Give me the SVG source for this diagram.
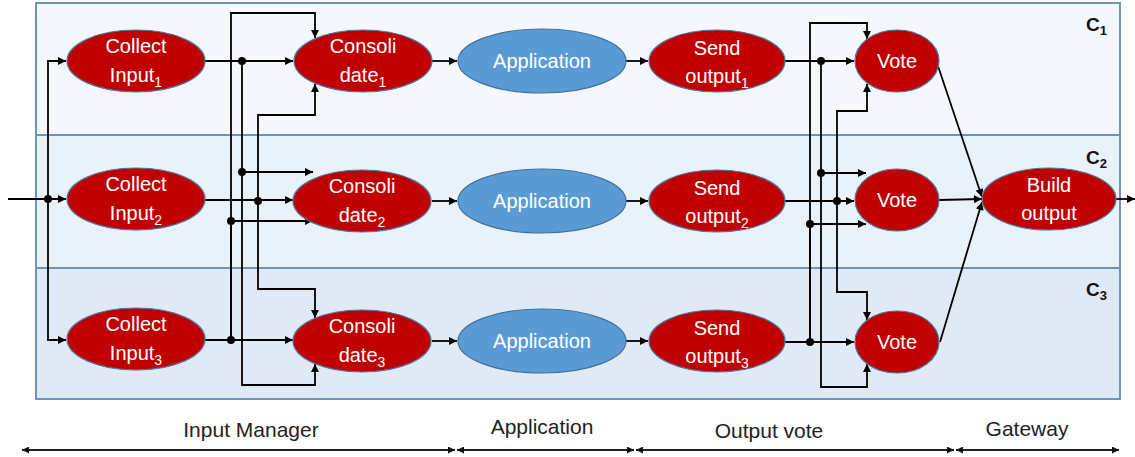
<svg xmlns="http://www.w3.org/2000/svg" width="1135" height="457" viewBox="0 0 1135 457">
<defs>
<marker id="arr" viewBox="0 0 10 10" refX="10" refY="5" markerUnits="userSpaceOnUse" markerWidth="9" markerHeight="8" orient="auto">
<path d="M0 0 L10 5 L0 10 z" fill="#000"/>
</marker>
<marker id="arrS" viewBox="0 0 10 10" refX="10" refY="5" markerUnits="userSpaceOnUse" markerWidth="7" markerHeight="7" orient="auto-start-reverse">
<path d="M0 0 L10 5 L0 10 z" fill="#111"/>
</marker>
<style>
.band{stroke:#6F93BD;stroke-width:2}
.red{fill:#C00000;stroke:#4A78A8;stroke-width:1.2}
.blue{fill:#5B9BD5;stroke:#41719C;stroke-width:1.2}
.t{font-family:"Liberation Sans",Arial,sans-serif;font-size:20px;fill:#fff;text-anchor:middle}
.sub{font-size:14px}
.c{font-family:"Liberation Sans",Arial,sans-serif;font-size:19px;font-weight:bold;fill:#111}
.cs{font-size:13px}
.ax{font-family:"Liberation Sans",Arial,sans-serif;font-size:21px;fill:#222;text-anchor:middle}
.ln{fill:none;stroke:#000;stroke-width:1.8}
.a{marker-end:url(#arr)}
.axl{stroke:#222;stroke-width:2;marker-start:url(#arrS);marker-end:url(#arrS)}
</style>
</defs>
<g id="bands">
<rect class="band" x="36" y="3" width="1084" height="132" fill="#F4F8FD"/>
<rect class="band" x="36" y="135" width="1084" height="133" fill="#E9F1F9"/>
<rect class="band" x="36" y="268" width="1084" height="131" fill="#DFEAF6"/>
<text class="c" x="1086" y="31">C<tspan class="cs" dy="4">1</tspan></text>
<text class="c" x="1086" y="164">C<tspan class="cs" dy="4">2</tspan></text>
<text class="c" x="1086" y="296">C<tspan class="cs" dy="4">3</tspan></text>
</g>
<g id="connectors">
<path class="ln a" d="M8 199 H66"/>
<path class="ln a" d="M48 199 V61 H66"/>
<path class="ln a" d="M48 199 V340 H66"/>
<path class="ln a" d="M205 61 H293"/>
<path class="ln a" d="M242 61 V172 H313"/>
<path class="ln a" d="M242 172 V385 H315 V364"/>
<path class="ln a" d="M205 200 H293"/>
<path class="ln a" d="M258 201 V115 H315 V84"/>
<path class="ln a" d="M258 201 V289 H315 V318"/>
<path class="ln a" d="M205 340 H293"/>
<path class="ln a" d="M231 340 V13 H315 V38"/>
<path class="ln a" d="M231 340 V221 H313"/>
<path class="ln a" d="M432 61 H457"/>
<path class="ln a" d="M432 201 H457"/>
<path class="ln a" d="M432 341 H457"/>
<path class="ln a" d="M626 61 H648"/>
<path class="ln a" d="M626 201 H648"/>
<path class="ln a" d="M626 341 H648"/>
<path class="ln a" d="M784 61 H854"/>
<path class="ln a" d="M821 61 V173 H866"/>
<path class="ln a" d="M821 173 V387 H867 V364"/>
<path class="ln a" d="M784 201 H854"/>
<path class="ln a" d="M837 201 V111 H867 V84"/>
<path class="ln a" d="M837 201 V292 H867 V320"/>
<path class="ln a" d="M784 342 H854"/>
<path class="ln a" d="M810 342 V23 H867 V39"/>
<path class="ln a" d="M810 342 V224 H866"/>
<path class="ln a" d="M938 66 L982 197"/>
<path class="ln a" d="M939 200 L982 199"/>
<path class="ln a" d="M940 342 L982 202"/>
<path class="ln a" d="M1116 199 H1135"/>
<g fill="#000">
<circle cx="48" cy="199" r="4"/>
<circle cx="242" cy="61" r="4"/>
<circle cx="242" cy="172" r="4"/>
<circle cx="258" cy="201" r="4"/>
<circle cx="231" cy="340" r="4"/>
<circle cx="231" cy="221" r="4"/>
<circle cx="821" cy="61" r="4"/>
<circle cx="821" cy="173" r="4"/>
<circle cx="837" cy="201" r="4"/>
<circle cx="810" cy="342" r="4"/>
<circle cx="810" cy="224" r="4"/>
</g>
</g>
<g id="collect1"><ellipse class="red" cx="136" cy="61" rx="69" ry="31"/><text class="t" x="136" y="53">Collect</text><text class="t" x="136" y="82">Input<tspan class="sub" dy="5">1</tspan></text></g>
<g id="collect2"><ellipse class="red" cx="136" cy="199" rx="69" ry="31"/><text class="t" x="136" y="191">Collect</text><text class="t" x="136" y="220">Input<tspan class="sub" dy="5">2</tspan></text></g>
<g id="collect3"><ellipse class="red" cx="136" cy="339" rx="69" ry="31"/><text class="t" x="136" y="331">Collect</text><text class="t" x="136" y="360">Input<tspan class="sub" dy="5">3</tspan></text></g>
<g id="consolidate1"><ellipse class="red" cx="363" cy="61" rx="69" ry="31"/><text class="t" x="363" y="53">Consoli</text><text class="t" x="363" y="82">date<tspan class="sub" dy="5">1</tspan></text></g>
<g id="consolidate2"><ellipse class="red" cx="362" cy="201" rx="69" ry="31"/><text class="t" x="362" y="193">Consoli</text><text class="t" x="362" y="222">date<tspan class="sub" dy="5">2</tspan></text></g>
<g id="consolidate3"><ellipse class="red" cx="362" cy="341" rx="69" ry="31"/><text class="t" x="362" y="333">Consoli</text><text class="t" x="362" y="362">date<tspan class="sub" dy="5">3</tspan></text></g>
<g id="application1"><ellipse class="blue" cx="542" cy="61" rx="84" ry="32"/><text class="t" x="542" y="68">Application</text></g>
<g id="application2"><ellipse class="blue" cx="542" cy="201" rx="84" ry="32"/><text class="t" x="542" y="208">Application</text></g>
<g id="application3"><ellipse class="blue" cx="542" cy="341" rx="84" ry="32"/><text class="t" x="542" y="348">Application</text></g>
<g id="send1"><ellipse class="red" cx="717" cy="61" rx="68" ry="31"/><text class="t" x="717" y="55">Send</text><text class="t" x="717" y="83">output<tspan class="sub" dy="5">1</tspan></text></g>
<g id="send2"><ellipse class="red" cx="717" cy="201" rx="68" ry="31"/><text class="t" x="717" y="195">Send</text><text class="t" x="717" y="223">output<tspan class="sub" dy="5">2</tspan></text></g>
<g id="send3"><ellipse class="red" cx="717" cy="341" rx="68" ry="31"/><text class="t" x="717" y="335">Send</text><text class="t" x="717" y="363">output<tspan class="sub" dy="5">3</tspan></text></g>
<g id="vote1"><ellipse class="red" cx="897" cy="61" rx="42" ry="31"/><text class="t" x="897" y="68">Vote</text></g>
<g id="vote2"><ellipse class="red" cx="897" cy="200" rx="42" ry="31"/><text class="t" x="897" y="207">Vote</text></g>
<g id="vote3"><ellipse class="red" cx="897" cy="342" rx="42" ry="31"/><text class="t" x="897" y="349">Vote</text></g>
<g id="build"><ellipse class="red" cx="1049" cy="199" rx="67" ry="31"/><text class="t" x="1049" y="192">Build</text><text class="t" x="1049" y="220">output</text></g>
<g id="axis">
<line class="axl" x1="22" y1="450" x2="455" y2="450"/>
<line class="axl" x1="457" y1="450" x2="634" y2="450"/>
<line class="axl" x1="636" y1="450" x2="954" y2="450"/>
<line class="axl" x1="956" y1="450" x2="1119" y2="450"/>
<text class="ax" x="251" y="437">Input Manager</text>
<text class="ax" x="542" y="434">Application</text>
<text class="ax" x="769" y="438">Output vote</text>
<text class="ax" x="1027" y="436">Gateway</text>
</g>
</svg>
